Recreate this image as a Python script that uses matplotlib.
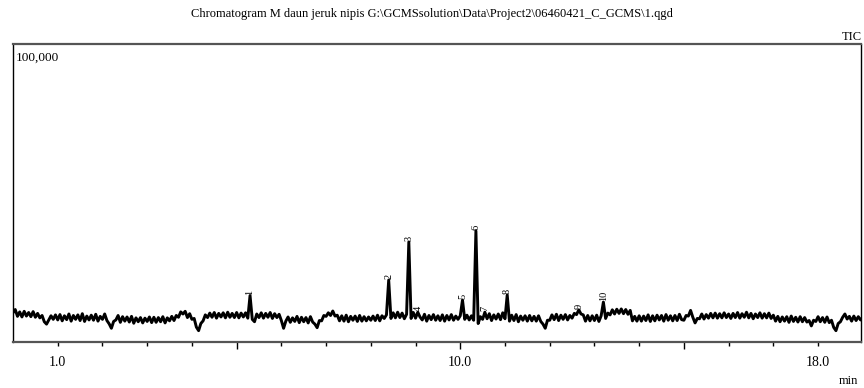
import numpy as np
import matplotlib.pyplot as plt
from matplotlib.ticker import FixedLocator, FuncFormatter

plt.rcParams['font.family'] = ['Liberation Serif', 'DejaVu Serif']

# TIC signal, thousands of counts, one value every 0.05 min (0.00 .. 19.00)
tic_k = [
    # 0 min
    9.8, 10.9, 8.6, 10.1, 8.4, 10.3, 8.7, 9.9, 8.5, 10.2, 8.3, 9.6, 8.1, 8.9, 6.8, 6.0, 7.4, 8.8, 7.6, 9.1,
    # 1 min
    7.4, 9.2, 7.1, 8.8, 7.5, 9.4, 7.0, 8.9, 7.6, 9.1, 7.2, 9.5, 6.9, 8.7, 7.4, 9.0, 7.3, 9.3, 7.0, 8.6,
    # 2 min
    7.6, 9.4, 7.2, 6.1, 4.6, 6.9, 7.4, 8.9, 6.6, 8.5, 7.0, 8.4, 6.7, 8.6, 6.3, 8.1, 6.8, 8.2, 6.4, 8.0,
    # 3 min
    6.9, 8.4, 6.5, 8.3, 6.6, 8.2, 6.8, 8.5, 6.4, 8.1, 7.1, 8.6, 7.2, 8.9, 8.3, 10.1, 9.4, 10.3, 8.2, 9.5,
    # 4 min
    7.6, 7.9, 5.0, 3.8, 6.2, 7.1, 9.1, 8.2, 9.7, 8.3, 9.9, 8.0, 9.6, 8.4, 9.8, 8.1, 10.0, 8.3, 9.6, 8.2,
    # 5 min
    9.9, 8.1, 9.7, 8.4, 9.8, 8.0, 15.6, 7.6, 6.8, 9.4, 8.2, 9.8, 8.0, 9.6, 8.3, 9.9, 7.9, 9.5, 8.2, 9.3,
    # 6 min
    7.2, 4.6, 7.0, 8.4, 6.6, 8.1, 6.9, 8.6, 6.5, 8.3, 6.8, 8.2, 6.4, 8.5, 6.7, 6.0, 4.8, 7.2, 7.1, 8.9,
    # 7 min
    8.6, 9.8, 8.9, 10.4, 8.7, 9.0, 7.1, 8.8, 7.0, 9.0, 6.8, 8.6, 7.3, 8.7, 6.9, 8.9, 7.0, 8.5, 7.1, 8.4,
    # 8 min
    7.3, 8.7, 7.2, 9.0, 7.1, 8.8, 7.9, 9.1, 20.8, 7.9, 9.8, 8.1, 10.0, 8.2, 9.7, 7.8, 9.3, 33.6, 7.9, 9.9,
    # 9 min
    8.0, 10.0, 8.4, 7.4, 9.3, 7.0, 8.9, 7.5, 9.2, 7.3, 8.8, 7.2, 9.1, 7.0, 8.9, 7.4, 9.2, 7.3, 8.7, 7.6,
    # 10 min
    8.8, 14.1, 7.6, 9.0, 7.4, 8.8, 7.3, 37.3, 6.2, 8.5, 7.6, 10.0, 7.8, 9.5, 7.2, 9.1, 7.7, 9.4, 7.5, 9.8,
    # 11 min
    7.8, 15.8, 7.0, 9.0, 7.2, 9.2, 6.8, 8.7, 7.3, 8.8, 7.0, 8.9, 7.1, 8.6, 7.0, 8.8, 6.9, 6.0, 4.6, 7.3,
    # 12 min
    7.3, 9.1, 7.5, 9.3, 7.2, 9.0, 7.6, 9.2, 7.4, 8.9, 8.0, 9.6, 9.2, 10.8, 9.4, 9.1, 7.0, 8.9, 7.1, 8.8,
    # 13 min
    7.2, 9.0, 6.9, 8.8, 13.4, 7.9, 9.7, 9.1, 10.8, 9.4, 11.0, 9.6, 11.1, 9.5, 10.9, 9.3, 10.6, 7.1, 8.6, 7.0,
    # 14 min
    8.8, 7.0, 8.7, 7.2, 9.1, 6.9, 8.8, 7.1, 9.0, 7.4, 8.9, 7.0, 9.2, 7.3, 8.8, 7.1, 8.9, 7.2, 9.3, 7.5,
    # 15 min
    7.3, 8.9, 8.7, 10.6, 8.3, 6.4, 7.9, 7.8, 9.4, 7.7, 9.2, 8.0, 9.6, 8.1, 9.7, 8.0, 9.5, 8.1, 9.8, 8.2,
    # 16 min
    9.4, 7.9, 9.6, 8.2, 9.9, 8.0, 9.5, 8.3, 10.0, 8.1, 9.6, 7.8, 9.4, 8.2, 9.8, 8.0, 9.5, 8.1, 9.7, 7.9,
    # 17 min
    9.0, 7.0, 8.6, 6.8, 8.4, 7.0, 8.5, 6.6, 8.7, 6.9, 8.3, 6.7, 8.5, 6.8, 8.2, 6.7, 7.2, 5.4, 7.3, 6.9,
    # 18 min
    8.5, 6.8, 8.2, 6.6, 8.4, 6.5, 7.3, 4.9, 3.8, 6.2, 6.8, 8.3, 9.4, 7.7, 8.6, 7.0, 8.7, 7.2, 8.5, 7.4,
    # 19 min
    8.3,
]

# peak numbers and retention times (min)
peak_no = ['1', '2', '3', '4', '5', '6', '7', '8', '9', '10']
peak_rt = [5.30, 8.40, 8.85, 9.05, 10.05, 10.35, 10.55, 11.05, 12.65, 13.20]

step = 0.05
rt = np.arange(len(tic_k)) * step
tic = np.array(tic_k) * 1000

fig = plt.figure(figsize=(8.64, 3.88), dpi=100)
ax = fig.add_axes([13/864, 46/388, 848/864, 298/388])

ax.plot(rt, tic, color='black', lw=2.1)

for no, t in zip(peak_no, peak_rt):
    top = tic[int(round(t / step))]
    ax.text(t, top + 300, no, rotation=90, ha='center', va='bottom', fontsize=7.5)

ax.set_xlim(0, 18.96)
ax.set_ylim(0, 100000)

# ticks: every minute, longer every 5 min, labels only on 1, 10, 18
ax.xaxis.set_major_locator(FixedLocator([5, 10, 15]))
ax.xaxis.set_minor_locator(FixedLocator(list(range(1, 19))))
ax.xaxis.set_major_formatter(FuncFormatter(lambda v, p: '10.0' if v == 10 else ''))
ax.xaxis.set_minor_formatter(FuncFormatter(lambda v, p: f'{v:.1f}' if v in (1, 18) else ''))
ax.tick_params(axis='x', which='major', length=5, width=1, pad=5, labelsize=10)
ax.tick_params(axis='x', which='minor', length=3, width=1, pad=7, labelsize=10)
ax.set_yticks([])

for side in ['top', 'bottom']:
    ax.spines[side].set_color('#555555')
    ax.spines[side].set_linewidth(1.6)
for side in ['left', 'right']:
    ax.spines[side].set_linewidth(1.0)

ax.text(0.003, 0.975, '100,000', transform=ax.transAxes, ha='left', va='top', fontsize=9.5)
fig.text(0.5, 1 - 14/388, r'Chromatogram M daun jeruk nipis G:\GCMSsolution\Data\Project2\06460421_C_GCMS\1.qgd',
         ha='center', va='center', fontsize=9)
fig.text(0.997, 1 - 37/388, 'TIC', ha='right', va='center', fontsize=9)
fig.text(0.993, 1 - 381/388, 'min', ha='right', va='center', fontsize=9)

fig.savefig('out.png', dpi=100)
